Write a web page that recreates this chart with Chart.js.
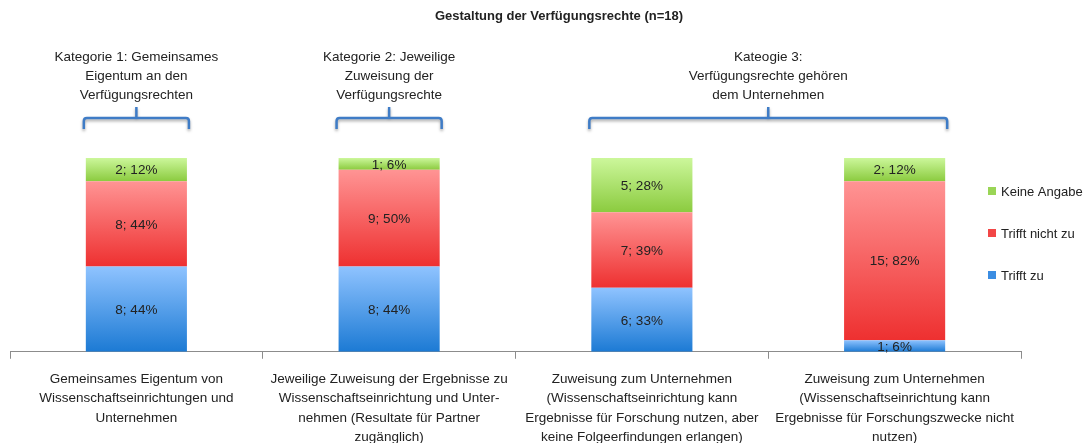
<!DOCTYPE html>
<html>
<head>
<meta charset="utf-8">
<script src="https://cdn.jsdelivr.net/npm/chart.js@4/dist/chart.umd.min.js"></script>
<style>
  html, body { margin: 0; padding: 0; background: #fff; }
  #wrap { width: 1085px; height: 443px; position: relative; }
</style>
</head>
<body>
<div id="wrap"><canvas id="grafico"></canvas></div>
<script>
// ========================
// DADOS
// ========================

const categorias = [
  ["Gemeinsames Eigentum von", "Wissenschaftseinrichtungen und", "Unternehmen"],
  ["Jeweilige Zuweisung der Ergebnisse zu", "Wissenschaftseinrichtung und Unter-", "nehmen (Resultate für Partner", "zugänglich)"],
  ["Zuweisung zum Unternehmen", "(Wissenschaftseinrichtung kann", "Ergebnisse für Forschung nutzen, aber", "keine Folgeerfindungen erlangen)"],
  ["Zuweisung zum Unternehmen", "(Wissenschaftseinrichtung kann", "Ergebnisse für Forschungszwecke nicht", "nutzen)"],
];

const series = ["Trifft zu", "Trifft nicht zu", "Keine Angabe"];

const anzahlTrifftZu = [8, 8, 6, 1];
const anzahlTrifftNicht = [8, 9, 7, 15];
const anzahlKeine = [2, 1, 5, 2];

const prozentTrifftZu = [44, 44, 33, 6];
const prozentTrifftNicht = [44, 50, 39, 82];
const prozentKeine = [12, 6, 28, 12];

const gruppen = [
  { titel: ["Kategorie 1: Gemeinsames", "Eigentum an den", "Verfügungsrechten"], von: 0, bis: 0 },
  { titel: ["Kategorie 2: Jeweilige", "Zuweisung der", "Verfügungsrechte"], von: 1, bis: 1 },
  { titel: ["Kateogie 3:", "Verfügungsrechte gehören", "dem Unternehmen"], von: 2, bis: 3 },
];

const titel = "Gestaltung der Verfügungsrechte (n=18)";

// ========================
// CORES
// ========================

const cores = [
  { topo: "#8fc3ff", base: "#1c7ad4", legenda: "#3b8de2" },
  { topo: "#ff9494", base: "#ee3030", legenda: "#f24646" },
  { topo: "#ccf79b", base: "#8bcb3f", legenda: "#9ad556" },
];

const FONTE = "'Liberation Sans', Arial, sans-serif";

function gradiente(ctx, idx) {
  const cor = cores[idx];
  if (ctx.type !== "data") return cor.legenda;
  const chart = ctx.chart;
  if (!chart.chartArea) return cor.legenda;
  const y = chart.scales.y;
  let inicio = 0;
  for (let i = 0; i < ctx.datasetIndex; i++) {
    inicio += chart.data.datasets[i].data[ctx.dataIndex];
  }
  const fim = inicio + chart.data.datasets[ctx.datasetIndex].data[ctx.dataIndex];
  const g = chart.ctx.createLinearGradient(0, y.getPixelForValue(fim), 0, y.getPixelForValue(inicio));
  g.addColorStop(0, cor.topo);
  g.addColorStop(1, cor.base);
  return g;
}

// ========================
// PLUGINS
// ========================

const rotulos = {
  id: "rotulos",
  afterDatasetsDraw(chart) {
    const ctx = chart.ctx;
    ctx.save();
    ctx.font = "13.5px " + FONTE;
    ctx.fillStyle = "#222";
    ctx.textAlign = "center";
    ctx.textBaseline = "middle";
    chart.data.datasets.forEach((ds, d) => {
      chart.getDatasetMeta(d).data.forEach((bar, i) => {
        const txt = ds.anzahl[i] + "; " + ds.data[i] + "%";
        ctx.fillText(txt, bar.x, (bar.y + bar.base) / 2 + 1);
      });
    });
    ctx.restore();
  },
};

const extras = {
  id: "extras",
  afterDraw(chart) {
    const ctx = chart.ctx;
    const bars = chart.getDatasetMeta(0).data;
    ctx.save();

    // titulo
    ctx.fillStyle = "#222";
    ctx.textAlign = "center";
    ctx.textBaseline = "middle";
    ctx.font = "bold 13px " + FONTE;
    ctx.fillText(titel, 559, 16);

    // grupos + colchetes
    gruppen.forEach((gr) => {
      const x0 = bars[gr.von].x - bars[gr.von].width / 2 - 2;
      const x1 = bars[gr.bis].x + bars[gr.bis].width / 2 + 2;
      const meio = (x0 + x1) / 2;

      ctx.font = "13.5px " + FONTE;
      ctx.fillStyle = "#222";
      gr.titel.forEach((linha, k) => {
        ctx.fillText(linha, meio, 57 + k * 19);
      });

      ctx.save();
      ctx.strokeStyle = "#3f7cc6";
      ctx.lineWidth = 2.5;
      ctx.shadowColor = "rgba(0,0,0,0.35)";
      ctx.shadowBlur = 3;
      ctx.shadowOffsetY = 2;
      ctx.beginPath();
      ctx.moveTo(x0, 129);
      ctx.lineTo(x0, 121);
      ctx.quadraticCurveTo(x0, 118, x0 + 3, 118);
      ctx.lineTo(x1 - 3, 118);
      ctx.quadraticCurveTo(x1, 118, x1, 121);
      ctx.lineTo(x1, 129);
      ctx.moveTo(meio, 118);
      ctx.lineTo(meio, 107);
      ctx.stroke();
      ctx.restore();
    });

    // legenda
    const itens = [2, 1, 0];
    const ys = [191, 233, 275];
    ctx.font = "13px " + FONTE;
    ctx.textAlign = "left";
    itens.forEach((d, k) => {
      ctx.fillStyle = cores[d].legenda;
      ctx.fillRect(988, ys[k] - 4, 8, 8);
      ctx.fillStyle = "#222";
      ctx.fillText(series[d], 1001, ys[k] + 1);
    });

    ctx.restore();
  },
};

// ========================
// GRÁFICO
// ========================

new Chart(document.getElementById("grafico"), {
  type: "bar",
  data: {
    labels: categorias,
    datasets: [
      { label: series[0], data: prozentTrifftZu, anzahl: anzahlTrifftZu, backgroundColor: (c) => gradiente(c, 0) },
      { label: series[1], data: prozentTrifftNicht, anzahl: anzahlTrifftNicht, backgroundColor: (c) => gradiente(c, 1) },
      { label: series[2], data: prozentKeine, anzahl: anzahlKeine, backgroundColor: (c) => gradiente(c, 2) },
    ].map((ds) => ({ ...ds, categoryPercentage: 1, barPercentage: 0.4, borderWidth: 0 })),
  },
  options: {
    responsive: true,
    maintainAspectRatio: false,
    animation: false,
    layout: { padding: { left: 10, right: 64, top: 158, bottom: -15 } },
    plugins: {
      legend: { display: false },
      title: { display: false },
      tooltip: { enabled: false },
    },
    scales: {
      x: {
        stacked: true,
        border: { color: "#8c8c8c", width: 1 },
        grid: { drawOnChartArea: false, drawTicks: true, tickLength: 7, color: "#8c8c8c", offset: true },
        ticks: {
          color: "#222",
          font: { family: FONTE, size: 13.5, lineHeight: 1.43 },
          padding: 11,
          maxRotation: 0,
          autoSkip: false,
        },
      },
      y: {
        stacked: true,
        display: false,
        min: 0,
        max: 100,
      },
    },
  },
  plugins: [rotulos, extras],
});
</script>
</body>
</html>
